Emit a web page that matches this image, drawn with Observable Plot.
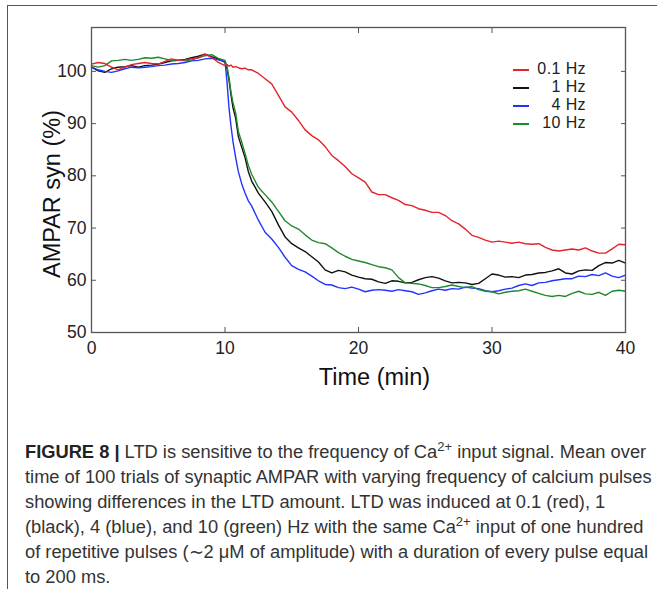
<!DOCTYPE html>
<html>
<head>
<meta charset="utf-8">
<script src="https://cdn.jsdelivr.net/npm/d3@7"></script>
<script src="https://cdn.jsdelivr.net/npm/@observablehq/plot@0.6"></script>
<style>
  html, body { margin: 0; padding: 0; background: #fff; width: 657px; height: 589px; overflow: hidden; }
  #page { position: relative; width: 657px; height: 589px; }
  #border { position: absolute; left: 7px; top: 5px; width: 800px; height: 800px;
            border-top: 1.6px solid #555; border-left: 1.6px solid #555; }
  #chart { position: absolute; left: 0; top: 0; }
  #legend { position: absolute; left: 496px; top: 59.5px; width: 90px;
            font-family: "Liberation Sans", Arial, Helvetica, sans-serif; font-size: 16px; letter-spacing: 0.4px; color: #222; }
  .row { position: relative; height: 18.2px; line-height: 18.2px; text-align: right; }
  .row .sw { position: absolute; left: 17px; top: 9px; width: 16px; height: 0; border-top: 2px solid; }
  #caption { position: absolute; left: 25px; top: 439px; width: 640px;
             font-family: "Liberation Sans Narrow", "Arial Narrow", "Liberation Sans", sans-serif;
             font-size: 18.3px; line-height: 25px; color: #333; white-space: nowrap; }
  #caption b { color: #222; }
  #caption sup { font-size: 13px; line-height: 0; vertical-align: 0.55em; }
</style>
</head>
<body>
<div id="page">
  <div id="border"></div>
  <div id="chart"></div>
  <div id="legend"></div>
  <div id="caption"><b>FIGURE 8 |</b> LTD is sensitive to the frequency of Ca<sup>2+</sup> input signal. Mean over<br>time of 100 trials of synaptic AMPAR with varying frequency of calcium pulses<br>showing differences in the LTD amount. LTD was induced at 0.1 (red), 1<br>(black), 4 (blue), and 10 (green) Hz with the same Ca<sup>2+</sup> input of one hundred<br>of repetitive pulses (∼2 μM of amplitude) with a duration of every pulse equal<br>to 200 ms.</div>
</div>
<script>
// ---- data ----
const times = [
  0,0.5,1,1.5,2,2.5,3,3.5,4,4.5,5,5.5,6,6.5,7,7.5,8,8.5,9,9.5,10,
  10.15,10.3,10.45,10.6,10.8,11,11.25,11.5,11.75,12,
  12.5,13,13.5,14,14.5,15,15.5,16,16.5,17,17.5,18,18.5,19,19.5,20,20.5,21,21.5,22,
  22.5,23,23.5,24,24.5,25,25.5,26,26.5,27,27.5,28,28.5,29,29.5,30,30.5,31,31.5,32,
  32.5,33,33.5,34,34.5,35,35.5,36,36.5,37,37.5,38,38.5,39,39.5,40
];
const hz01 = [
  101.4,101.7,101.5,100.8,100.3,100.8,101.3,101.5,101.7,101.5,101.4,101.9,102.4,102.1,102.2,102.4,102.6,103.3,102.7,101.7,101.1,
  101.3,101.0,101.2,100.8,100.9,100.7,100.5,100.6,100.3,100.3,
  99.6,98.6,97.6,95.4,93.2,92.2,90.6,88.8,87.7,86.9,85.6,83.9,82.9,81.8,80.4,79.6,78.8,76.9,76.4,76.4,
  75.8,75.3,74.5,74.3,73.7,73.4,73.0,73.0,72.4,71.4,70.8,69.8,68.6,68.2,67.7,67.3,67.5,67.3,67.1,67.3,
  67.0,66.9,67.0,66.3,65.8,65.6,65.8,66.0,65.8,66.2,65.6,65.2,65.2,66.0,66.9,66.8
];
const hz1 = [
  100.8,100.1,99.8,100.5,100.8,100.9,101.1,100.8,101.1,101.2,101.4,101.7,102.0,102.1,102.3,102.6,102.9,103.3,102.8,102.4,101.7,
  100.5,98.3,95.5,93.0,91.0,87.5,85.5,83.5,80.8,79.0,
  76.7,75.0,73.2,70.6,68.3,67.0,66.2,65.5,64.5,63.5,62.0,61.4,61.9,61.6,61.0,60.6,60.3,60.2,59.7,59.4,
  59.9,59.8,59.5,59.6,60.1,60.5,60.7,60.4,59.9,59.5,59.6,59.5,59.2,59.4,60.3,61.2,61.0,60.6,60.7,60.5,
  61.0,61.1,61.4,61.5,61.8,62.2,61.4,61.2,61.8,62.0,61.9,62.8,63.4,63.3,63.8,63.3
];
const hz4 = [
  100.8,100.3,100.0,99.8,100.1,100.5,100.8,100.7,100.8,100.9,101.1,101.2,101.4,101.5,101.7,102.0,102.1,102.4,102.5,102.2,101.9,
  98.0,93.0,89.5,86.5,83.5,80.8,78.5,76.7,75.2,74.2,
  71.5,69.2,67.9,66.3,64.4,62.8,62.1,61.6,60.8,59.9,59.2,59.1,58.6,58.4,58.7,58.3,57.8,58.1,58.2,58.1,
  57.9,58.2,58.0,57.8,57.3,57.6,58.0,58.3,58.1,58.4,58.3,58.7,58.5,58.4,58.0,57.8,58.0,58.3,58.5,59.0,
  59.3,59.0,59.5,59.6,59.9,60.1,60.3,60.3,60.8,60.7,61.1,60.9,61.4,60.8,60.5,61.0
];
const hz10 = [
  101.1,100.8,101.1,102.0,102.1,102.3,102.1,102.3,102.6,102.5,102.7,102.4,102.1,102.2,102.0,102.2,102.6,103.0,103.2,102.5,102.1,
  101.0,98.8,96.0,94.0,92.0,88.5,86.5,84.3,82.0,80.3,
  77.8,76.4,75.0,73.2,71.4,70.4,69.8,68.7,67.7,67.2,67.0,66.2,65.3,64.6,64.0,63.7,63.4,63.0,62.6,62.4,
  62.0,60.5,59.5,59.4,59.3,59.0,58.6,58.6,58.8,59.1,58.8,58.6,58.8,58.2,57.9,57.8,57.4,57.7,57.9,58.0,
  58.3,57.9,57.5,57.1,56.9,57.1,56.9,57.5,57.9,57.4,57.3,57.7,57.1,57.9,58.1,57.9
];
const seriesNames = ["0.1 Hz", "1 Hz", "4 Hz", "10 Hz"];
const seriesColors = ["#e3242b", "#111111", "#2233ff", "#1f8a2a"];
const seriesValues = [hz01, hz1, hz4, hz10];
const drawOrder = [1, 2, 3, 0];
const xTicks = [0, 10, 20, 30, 40];
const xTopTicks = [10, 20, 30];
const yTicks = [50, 60, 70, 80, 90, 100];

const rows = drawOrder.flatMap(i => times.map((t, j) => ({t, v: seriesValues[i][j], s: seriesNames[i]})));

const font = "'Liberation Sans', Arial, Helvetica, sans-serif";
const frameColor = "#555";
const noText = () => "";

const chart = Plot.plot({
  width: 657,
  height: 400,
  marginLeft: 91,
  marginRight: 32,
  marginTop: 27,
  marginBottom: 68,
  style: {fontFamily: font, fontSize: "17.5px", color: "#222", background: "transparent", overflow: "visible"},
  x: {domain: [0, 40]},
  y: {domain: [50, 108.4]},
  color: {domain: seriesNames, range: seriesColors},
  marks: [
    Plot.line(rows, {x: "t", y: "v", z: "s", stroke: "s", strokeWidth: 1.4}),
    Plot.frame({stroke: frameColor, strokeWidth: 1.3}),
    // inward tick marks on all four sides
    Plot.axisX({ticks: xTicks, anchor: "bottom", tickSize: -5, tickFormat: noText, label: null, stroke: frameColor}),
    Plot.axisX({ticks: xTopTicks, anchor: "top", tickSize: -5, tickFormat: noText, label: null, stroke: frameColor}),
    Plot.axisY({ticks: yTicks, anchor: "left", tickSize: -5, tickFormat: noText, label: null, stroke: frameColor}),
    Plot.axisY({ticks: yTicks, anchor: "right", tickSize: -5, tickFormat: noText, label: null, stroke: frameColor}),
    // tick labels
    Plot.axisX({ticks: xTicks, anchor: "bottom", tickSize: 0, tickPadding: 9, label: null, fontSize: 17.5, fill: "#222"}),
    Plot.axisY({ticks: yTicks, anchor: "left", tickSize: 0, tickPadding: 5, label: null, fontSize: 17.5, fill: "#222"}),
    // axis titles
    Plot.text(["Time (min)"], {frameAnchor: "bottom", textAnchor: "middle", dy: 52, dx: 16, fontSize: 23.5, fill: "#111"}),
    Plot.text(["AMPAR syn (%)"], {frameAnchor: "left", textAnchor: "middle", rotate: -90, dx: -39, dy: 14, fontSize: 23.5, fill: "#111"})
  ]
});
document.getElementById("chart").appendChild(chart);

// legend (inside the plot, top right)
const legend = document.getElementById("legend");
seriesNames.forEach((name, i) => {
  const row = document.createElement("div");
  row.className = "row";
  const sw = document.createElement("span");
  sw.className = "sw";
  sw.style.borderTopColor = seriesColors[i];
  row.appendChild(sw);
  row.appendChild(document.createTextNode(name));
  legend.appendChild(row);
});
</script>
</body>
</html>
